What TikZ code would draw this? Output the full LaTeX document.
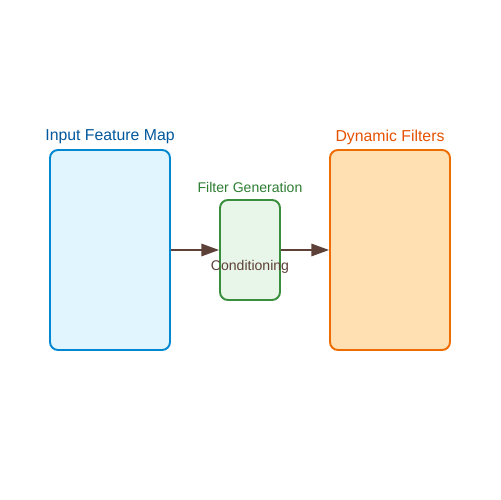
\documentclass[tikz,border=0pt]{standalone}
\usepackage{fontspec}
\setmainfont{Liberation Sans}
\usetikzlibrary{arrows.meta}
\definecolor{mapblue}{HTML}{0288D1}
\definecolor{mapfill}{HTML}{E1F5FE}
\definecolor{maptext}{HTML}{01579B}
\definecolor{gengreen}{HTML}{388E3C}
\definecolor{genfill}{HTML}{E8F5E9}
\definecolor{gentext}{HTML}{2E7D32}
\definecolor{filtorange}{HTML}{EF6C00}
\definecolor{filtfill}{HTML}{FFE0B2}
\definecolor{filttext}{HTML}{E65100}
\definecolor{flowbrown}{HTML}{5D4037}
\tikzset{
	block/.style={draw, line width=1.1pt, rounded corners=4.5pt, inner sep=0pt},
	flow/.style={draw=flowbrown, line width=1.1pt, -{Triangle[length=10pt, width=7pt]}}
}
\begin{document}
\begin{tikzpicture}[x=0.02cm, y=-0.02cm]
		\useasboundingbox (0,0) rectangle (500,500);
		
		% Blokkene
		\node[block, draw=mapblue, fill=mapfill, minimum width=2.4cm, minimum height=4cm] (inputmap) at (110,250) {};
		\node[block, draw=gengreen, fill=genfill, minimum width=1.2cm, minimum height=2cm] (filtergen) at (250,250) {};
		\node[block, draw=filtorange, fill=filtfill, minimum width=2.4cm, minimum height=4cm] (dynfilters) at (390,250) {};
		
		% Overskrifter
		\node[maptext, font=\fontsize{9}{11}\selectfont] (inputlabel) at (110,137) {Input Feature Map};
		\node[gentext, font=\fontsize{8}{10}\selectfont] (genlabel) at (250,187) {Filter Generation};
		\node[filttext, font=\fontsize{9}{11}\selectfont] (dynlabel) at (390,137) {Dynamic Filters};
		\node[flowbrown, font=\fontsize{8}{10}\selectfont] (condlabel) at (250,267) {Conditioning};
		
		% Piler
		\draw[flow] (inputmap.east) -- (filtergen.west);
		\draw[flow] (filtergen.east) -- (dynfilters.west);
	\end{tikzpicture}
\end{document}
